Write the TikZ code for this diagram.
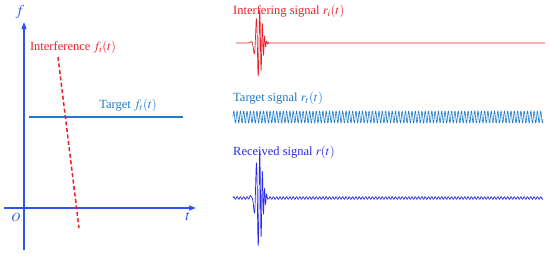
\documentclass[tikz,border=0pt]{standalone}
\usepackage{mathptmx}
\usepackage{fontspec}
\setmainfont{Liberation Serif}
\usetikzlibrary{arrows.meta, positioning}
\definecolor{cred}{HTML}{E8202A}
\definecolor{csky}{HTML}{1F7BC8}
\definecolor{cblue}{HTML}{2A2AE6}
\definecolor{caxis}{HTML}{2F55E8}
\tikzset{
  axis/.style={draw=caxis, line width=1.2pt, -{Triangle[length=7pt, width=5pt]}},
  lbl/.style={inner sep=0pt, anchor=west},
  sig/.style={draw=#1, line width=0.7pt, line join=round},
  declare function={pulse(\t)=exp(-(\t/4.5)^2)*sin(\t*115+\t*\t*5);
                    wave(\t)=sin(mod(\t,3.3)*109.09);},
}

\begin{document}
\begin{tikzpicture}[x=1pt, y=-1pt, font=\fontsize{12.5}{15}\selectfont]
  \useasboundingbox (0,0) rectangle (550,258);
  % frequency-time plane
  \coordinate (fstart) at (24,250);
  \coordinate (fend) at (24,22);
  \coordinate (tstart) at (4,208);
  \coordinate (tend) at (196,208);
  \draw[axis] (fstart) -- (fend);
  \draw[axis] (tstart) -- (tend);
  \node[inner sep=0pt, text=caxis, font=\fontsize{15}{18}\selectfont] (flbl) at (20,12) {$f$};
  \node[inner sep=0pt, text=caxis] (olbl) at (16,217) {$O$};
  \node[inner sep=0pt, text=caxis, font=\fontsize{15}{18}\selectfont] (tlbl) at (188,217) {$t$};
  \coordinate (tgA) at (29,117);
  \coordinate (tgB) at (183,117);
  \draw[csky, line width=1.5pt] (tgA) -- (tgB);
  \node[inner sep=0pt, text=csky] (tglbl) at (128,105) {Target $f_t(t)$};
  \coordinate (ifA) at (58,57);
  \coordinate (ifB) at (79,228);
  \draw[cred, line width=1.5pt, dash pattern=on 4pt off 2.5pt] (ifA) -- (ifB);
  \node[inner sep=0pt, text=cred] (iflbl) at (73,47) {Interference $f_i(t)$};
  % signals
  \node[lbl, text=cred] (rilbl) at (233,11) {Interfering signal $r_i(t)$};
  \coordinate (riA) at (236,43);
  \coordinate (riB) at (545,43);
  \draw[sig=cred] (riA) -- (248,43)
    -- plot[domain=248:270, samples=300] (\x, {43 - 34*pulse(\x-259)}) -- (riB);
  \node[lbl, text=csky] (rtlbl) at (233,98) {Target signal $r_t(t)$};
  \draw[sig=csky, line width=0.6pt] plot[domain=233:543, samples=1600] (\x, {117 - 6*wave(\x-233)});
  \node[lbl, text=cblue] (rlbl) at (233,152) {Received signal $r(t)$};
  \draw[sig=cblue] plot[domain=233:248, samples=100] (\x, {198 - 1.3*wave(\x-233)})
    -- plot[domain=248:270, samples=300] (\x, {198 - 1.3*wave(\x-233) - 48*pulse(\x-259)})
    -- plot[domain=270:543, samples=1400] (\x, {198 - 1.3*wave(\x-233)});
\end{tikzpicture}
\end{document}
